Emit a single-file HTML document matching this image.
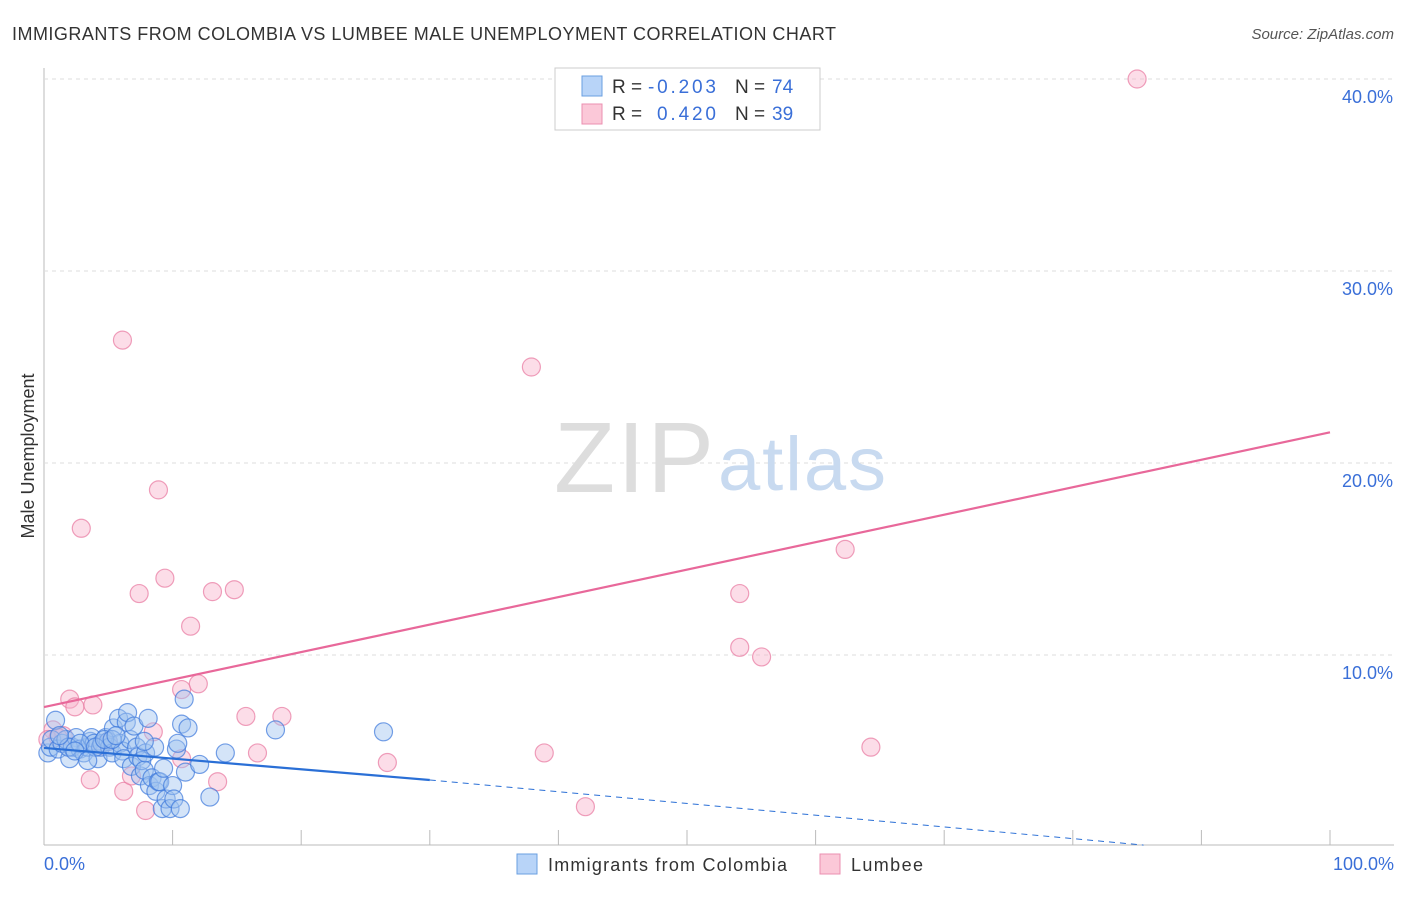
<!DOCTYPE html>
<html><head><meta charset="utf-8"><style>
body{margin:0;background:#fff;font-family:"Liberation Sans",sans-serif;}
svg text{font-family:"Liberation Sans",sans-serif;}
</style></head><body>
<svg width="1406" height="892" xmlns="http://www.w3.org/2000/svg">
<text x="12" y="40" font-size="18" fill="#333" textLength="824" lengthAdjust="spacing">IMMIGRANTS FROM COLOMBIA VS LUMBEE MALE UNEMPLOYMENT CORRELATION CHART</text>
<text x="1394" y="39" font-size="15" fill="#555" text-anchor="end" font-style="italic">Source: ZipAtlas.com</text>
<g id="grid"></g>
<text x="714" y="492" font-size="100" fill="#ddd" text-anchor="end" font-family="Liberation Serif" textLength="160">ZIP</text>
<text x="718" y="490" font-size="76" fill="#c8daf0" textLength="168">atlas</text>
<g id="pts"></g>
<g id="lines"></g>
<text x="34" y="456" font-size="18" fill="#333" text-anchor="middle" transform="rotate(-90 34 456)">Male Unemployment</text>
<text x="44" y="870" font-size="18" fill="#3a6fd8">0.0%</text>
<text x="1394" y="870" font-size="18" fill="#3a6fd8" text-anchor="end">100.0%</text>
<g>
<rect x="555" y="68" width="265" height="62" fill="#fff" stroke="#ccc"/>
<rect x="582" y="76" width="20" height="20" fill="#b8d4f8" stroke="#6a9fe0"/>
<rect x="582" y="104" width="20" height="20" fill="#fbc8d8" stroke="#eb8fb0"/>
<text x="612" y="93" font-size="19" fill="#333">R =</text>
<text x="648" y="93" font-size="19" fill="#3a6fd8" textLength="68">-0.203</text>
<text x="735" y="93" font-size="19" fill="#333">N =</text>
<text x="772" y="93" font-size="19" fill="#3a6fd8">74</text>
<text x="612" y="120" font-size="19" fill="#333">R =</text>
<text x="657" y="120" font-size="19" fill="#3a6fd8" textLength="59">0.420</text>
<text x="735" y="120" font-size="19" fill="#333">N =</text>
<text x="772" y="120" font-size="19" fill="#3a6fd8">39</text>
</g>
<g>
<rect x="517" y="854" width="20" height="20" fill="#b8d4f8" stroke="#6a9fe0"/>
<text x="548" y="871" font-size="18" fill="#333" textLength="239">Immigrants from Colombia</text>
<rect x="820" y="854" width="20" height="20" fill="#fbc8d8" stroke="#eb8fb0"/>
<text x="851" y="871" font-size="18" fill="#333" textLength="72">Lumbee</text>
</g>
</svg>
<script>
const yTicks=[10,20,30,40];
const yTickLabels=["10.0%","20.0%","30.0%","40.0%"];
const blueX=[0.3,0.5,0.6,0.9,1.1,1.4,1.7,2.0,2.2,2.5,2.8,3.1,3.4,3.6,3.7,3.9,4.2,4.4,4.5,4.8,5.0,5.1,5.3,5.4,5.8,5.9,6.1,6.2,6.4,6.5,6.7,6.8,7.0,7.2,7.3,7.5,7.6,7.8,7.9,8.1,8.2,8.4,8.6,8.7,8.9,9.0,9.2,9.3,9.5,9.8,10.0,10.1,10.3,10.4,10.6,10.7,10.9,11.0,11.2,12.1,12.9,14.1,18.0,26.4,1.9,2.8,4.0,4.7,5.3,5.6,7.8,1.2,2.4,3.4];
const blueY=[4.9,5.2,5.6,6.6,5.1,5.4,5.6,4.6,5.2,5.7,5.1,4.9,5.2,5.5,5.7,5.4,4.6,5.2,5.4,5.7,5.5,5.2,4.9,6.2,6.7,5.4,5.0,4.6,6.5,7.0,5.6,4.2,6.3,5.2,4.7,3.7,4.5,4.0,4.9,6.7,3.2,3.6,5.2,2.9,3.4,3.4,2.0,4.1,2.5,2.0,3.2,2.5,5.1,5.4,2.0,6.4,7.7,3.9,6.2,4.3,2.6,4.9,6.1,6.0,5.2,5.4,5.2,5.6,5.6,5.8,5.5,5.8,5.0,4.5];
const pinkX=[85.0,6.1,37.9,8.9,2.9,62.3,9.4,7.4,13.1,14.8,54.1,11.4,54.1,55.8,10.7,12.0,2.0,3.8,2.4,15.7,18.5,8.5,0.7,1.5,5.0,16.6,38.9,64.3,26.7,10.7,13.5,3.6,6.2,42.1,7.9,0.3,1.1,4.5,6.8];
const pinkY=[40.0,26.4,25.0,18.6,16.6,15.5,14.0,13.2,13.3,13.4,13.2,11.5,10.4,9.9,8.2,8.5,7.7,7.4,7.3,6.8,6.8,6.0,6.1,5.8,5.5,4.9,4.9,5.2,4.4,4.6,3.4,3.5,2.9,2.1,1.9,5.6,5.7,5.3,3.7];
const blueLine=[[0,5.16],[30,3.49]];
const blueDash=[[30,3.49],[85.5,0.1]];
const pinkLine=[[0,7.29],[100,21.6]];
const NS="http://www.w3.org/2000/svg";
const sx=v=>44+v*12.86, sy=v=>847-v*19.2;
function mk(t,a,p){const e=document.createElementNS(NS,t);for(const k in a)e.setAttribute(k,a[k]);p.appendChild(e);return e;}
const grid=document.getElementById('grid');
mk('line',{x1:44,y1:68,x2:44,y2:845,stroke:'#bbb'},grid);
mk('line',{x1:44,y1:845,x2:1394,y2:845,stroke:'#bbb'},grid);
yTicks.forEach((t,i)=>{
 const g=mk('line',{x1:44,y1:sy(t),x2:1394,y2:sy(t),stroke:'#ddd','stroke-dasharray':'4,4'},grid);
 
 
 const tx=mk('text',{x:1393,y:sy(t)+24,'font-size':18,fill:'#3a6fd8','text-anchor':'end'},grid);
 tx.textContent=yTickLabels[i];
 
 
});
for(let i=1;i<=10;i++){const l=mk('line',{x1:sx(i*10),y1:830,x2:sx(i*10),y2:845,stroke:'#bbb'},grid);
 
 }
const pts=document.getElementById('pts');
pinkX.forEach((x,i)=>{const c=mk('circle',{cx:sx(x),cy:sy(pinkY[i]),r:9,fill:'rgba(248,180,204,0.45)',stroke:'rgba(232,120,160,0.7)','stroke-width':1.2},pts);
 
 });
blueX.forEach((x,i)=>{const c=mk('circle',{cx:sx(x),cy:sy(blueY[i]),r:9,fill:'rgba(160,196,240,0.45)',stroke:'rgba(60,120,220,0.7)','stroke-width':1.2},pts);
 
 });
const lines=document.getElementById('lines');
const pl=mk('line',{x1:sx(pinkLine[0][0]),y1:sy(pinkLine[0][1]),x2:sx(pinkLine[1][0]),y2:sy(pinkLine[1][1]),stroke:'#e8689a','stroke-width':2.2},lines);


const bl=mk('line',{x1:sx(blueLine[0][0]),y1:sy(blueLine[0][1]),x2:sx(blueLine[1][0]),y2:sy(blueLine[1][1]),stroke:'#2a6fd6','stroke-width':2.2},lines);


const bd=mk('line',{x1:sx(blueDash[0][0]),y1:sy(blueDash[0][1]),x2:sx(blueDash[1][0]),y2:sy(blueDash[1][1]),stroke:'#2a6fd6','stroke-width':1,'stroke-dasharray':'6,5'},lines);


</script>
</body></html>
